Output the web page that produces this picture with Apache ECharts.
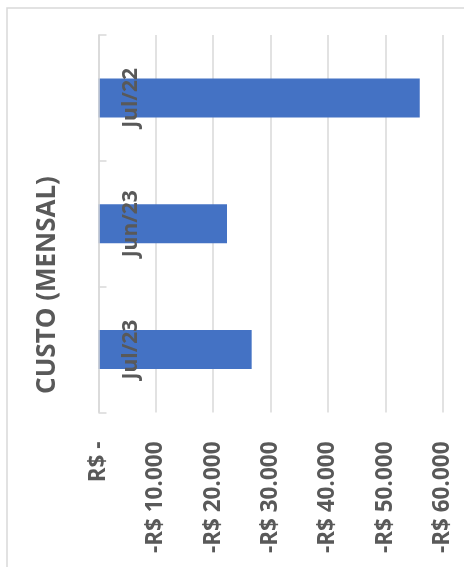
<!DOCTYPE html>
<html>
<head>
<meta charset="utf-8">
<script src="https://cdn.jsdelivr.net/npm/echarts@6/dist/echarts.min.js"></script>
<style>
html,body{margin:0;padding:0;background:#fff;}
#chart{width:464px;height:567px;}
</style>
</head>
<body>
<div id="chart"></div>
<script>
// Data
const categories = ['Jul/22', 'Jun/23', 'Jul/23'];
const custo = [-56000, -22400, -26700];
const tickValues = [0, -10000, -20000, -30000, -40000, -50000, -60000];
const tickLabels = ['R$ -', '-R$ 10.000', '-R$ 20.000', '-R$ 30.000', '-R$ 40.000', '-R$ 50.000', '-R$ 60.000'];
const titleText = 'CUSTO (MENSAL)';

const FONT = '"Open Sans", Roboto, "Liberation Sans", sans-serif';
const GRAY = '#595959';
const LINE = '#d9d9d9';

const chart = echarts.init(document.getElementById('chart'), null, {renderer: 'canvas'});
chart.setOption({
  animation: false,
  backgroundColor: '#ffffff',
  grid: {left: 98.5, right: 21.3, top: 35, bottom: 154.5, containLabel: false},
  xAxis: {
    type: 'value',
    inverse: true,
    min: -60000,
    max: 0,
    interval: 10000,
    axisLine: {show: false},
    axisTick: {show: false},
    splitLine: {show: true, lineStyle: {color: LINE, width: 1.5}},
    axisLabel: {
      rotate: 90,
      margin: 29,
      color: GRAY,
      fontFamily: FONT,
      fontWeight: 'bold',
      fontSize: 22.5,
      formatter: function (v) {
        const i = tickValues.indexOf(v);
        return i >= 0 ? tickLabels[i] : '';
      }
    }
  },
  yAxis: {
    type: 'category',
    inverse: true,
    data: categories,
    z: 5,
    axisLine: {show: true, lineStyle: {color: LINE, width: 1.5}},
    axisTick: {show: true, inside: true, length: 8, lineStyle: {color: LINE, width: 1.5}},
    splitLine: {show: false},
    axisLabel: {
      inside: true,
      rotate: 90,
      margin: 33,
      align: 'center',
      verticalAlign: 'middle',
      color: GRAY,
      fontFamily: FONT,
      fontWeight: 'bold',
      fontSize: 21
    }
  },
  series: [{
    type: 'bar',
    data: custo,
    barCategoryGap: '69%',
    itemStyle: {color: '#4472C4'}
  }],
  graphic: [
    {
      type: 'rect',
      shape: {x: 7, y: 8, width: 520, height: 620},
      style: {fill: 'none', stroke: LINE, lineWidth: 1.5},
      silent: true,
      z: -10
    },
    {
      type: 'text',
      x: 48,
      y: 285,
      rotation: Math.PI / 2,
      style: {
        text: titleText,
        font: 'bold 26px ' + FONT,
        fill: GRAY,
        textAlign: 'center',
        textVerticalAlign: 'middle',
        verticalAlign: 'middle'
      },
      z: 10
    }
  ]
});
</script>
</body>
</html>
